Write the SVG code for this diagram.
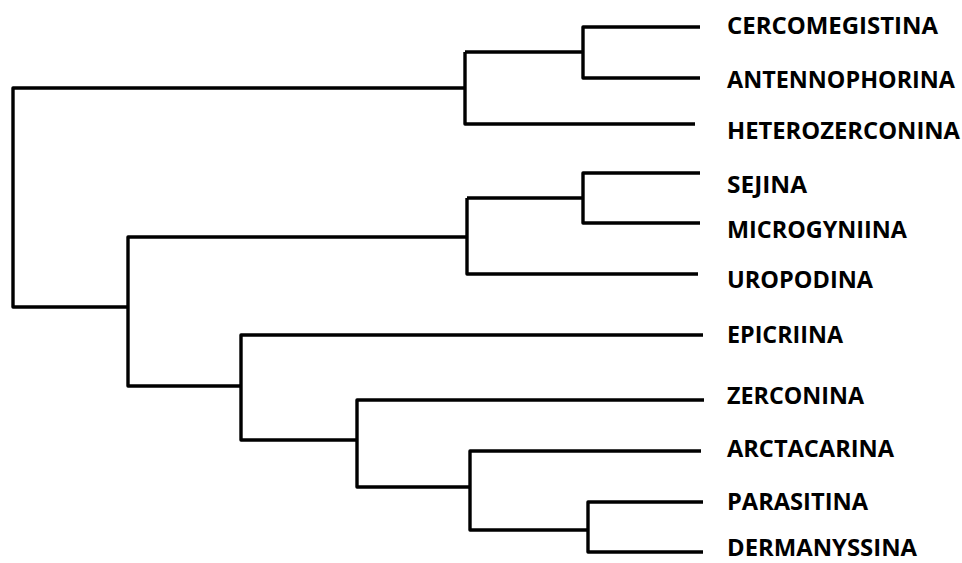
<svg xmlns="http://www.w3.org/2000/svg" width="962" height="563" viewBox="0 0 962 563">
<style>
.e{fill:none;stroke:#000;stroke-width:3.4;stroke-linejoin:round;stroke-linecap:butt}
.t{font-family:"Open Sans","Liberation Sans",sans-serif;font-weight:bold;font-size:24px;fill:#000}
</style>
<rect width="962" height="563" fill="#fff"/>
<g id="connectors">
<path class="e" d="M700 27H583V78H700M583 52H465"/>
<path class="e" d="M465 52V124H695M465 88H13V307H128"/>
<path class="e" d="M700 173H583V223H700M583 198H467"/>
<path class="e" d="M467 198V274H698M467 237H128V386H241"/>
<path class="e" d="M703 335H241V440H357"/>
<path class="e" d="M704 400H357V487H470"/>
<path class="e" d="M701 451H470V530H588"/>
<path class="e" d="M703 502H588V552H703"/>
</g>
<g id="n1"><text class="t" x="727" y="34" textLength="211" lengthAdjust="spacingAndGlyphs">CERCOMEGISTINA</text></g>
<g id="n2"><text class="t" x="727" y="88" textLength="228" lengthAdjust="spacingAndGlyphs">ANTENNOPHORINA</text></g>
<g id="n3"><text class="t" x="727" y="139" textLength="233" lengthAdjust="spacingAndGlyphs">HETEROZERCONINA</text></g>
<g id="n4"><text class="t" x="727" y="193" textLength="80" lengthAdjust="spacingAndGlyphs">SEJINA</text></g>
<g id="n5"><text class="t" x="727" y="238" textLength="180" lengthAdjust="spacingAndGlyphs">MICROGYNIINA</text></g>
<g id="n6"><text class="t" x="727" y="288" textLength="146" lengthAdjust="spacingAndGlyphs">UROPODINA</text></g>
<g id="n7"><text class="t" x="727" y="343" textLength="116" lengthAdjust="spacingAndGlyphs">EPICRIINA</text></g>
<g id="n8"><text class="t" x="727" y="404" textLength="137" lengthAdjust="spacingAndGlyphs">ZERCONINA</text></g>
<g id="n9"><text class="t" x="727" y="457" textLength="167" lengthAdjust="spacingAndGlyphs">ARCTACARINA</text></g>
<g id="n10"><text class="t" x="727" y="510" textLength="141" lengthAdjust="spacingAndGlyphs">PARASITINA</text></g>
<g id="n11"><text class="t" x="727" y="556" textLength="190" lengthAdjust="spacingAndGlyphs">DERMANYSSINA</text></g>
</svg>
